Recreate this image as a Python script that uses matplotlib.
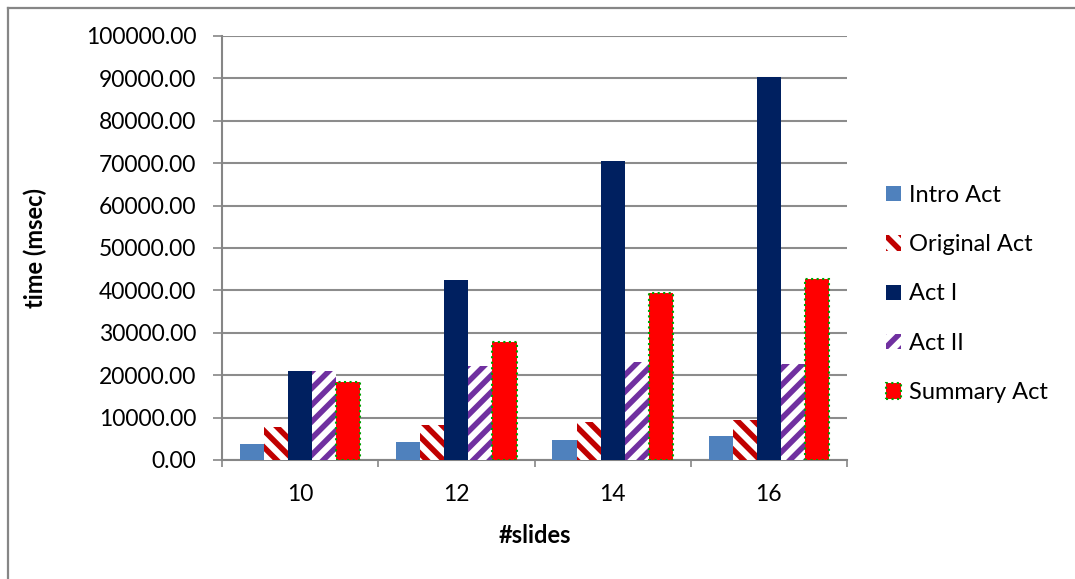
import numpy as np
import matplotlib.pyplot as plt
from matplotlib.lines import Line2D

plt.rcParams['font.family'] = ['Lato', 'DejaVu Sans']
plt.rcParams['hatch.linewidth'] = 4.0

slides = ['10', '12', '14', '16']
intro_act = [3700, 4300, 4800, 5600]
original_act = [7900, 8300, 9000, 9500]
act_1 = [21100, 42500, 70600, 90300]
act_2 = [21000, 22200, 23000, 22700]
summary_act = [18300, 27800, 39500, 42800]

W, H = 1075, 579
fig = plt.figure(figsize=(W / 100, H / 100), dpi=100)
ax = fig.add_axes([222 / W, 1 - 460 / H, 625 / W, 424 / H])

# chart border (top and left edges)
fig.lines.append(Line2D([8 / W, 8 / W], [0, 1 - 8 / H], transform=fig.transFigure,
                        color='#868686', linewidth=1.6))
fig.lines.append(Line2D([8 / W, 1], [1 - 8 / H, 1 - 8 / H], transform=fig.transFigure,
                        color='#868686', linewidth=1.6))

x = np.arange(len(slides))
w = 0.154
series = [
    ('Intro Act', intro_act, dict(color='#4f81bd')),
    ('Original Act', original_act, dict(facecolor='white', edgecolor='#c00000', hatch='\\\\', linewidth=0)),
    ('Act I', act_1, dict(color='#002060')),
    ('Act II', act_2, dict(facecolor='white', edgecolor='#7030a0', hatch='//', linewidth=0)),
    ('Summary Act', summary_act, dict(facecolor='#ff0000', edgecolor='#00a000', linestyle=':', linewidth=1.5)),
]
for i, (name, vals, style) in enumerate(series):
    ax.bar(x + (i - 2) * w, vals, w, label=name, zorder=3, **style)

yt = np.arange(0, 100001, 10000)
ax.set_xlim(-0.5, 3.5)
ax.set_ylim(0, 100000)
ax.set_yticks(yt)
ax.set_yticklabels(['%.2f' % v for v in yt])
ax.set_xticks(x)
ax.set_xticklabels(slides)
ax.set_xticks(np.arange(-0.5, 3.6, 1), minor=True)
ax.tick_params(axis='x', which='major', length=0, pad=17)
ax.tick_params(axis='x', which='minor', length=5, color='#868686', width=1.2)
ax.tick_params(axis='y', length=6.5, color='#868686', width=1.2, pad=12)
ax.tick_params(labelsize=16.5)
ax.grid(axis='y', color='#8c8c8c', linewidth=1.5, zorder=0)
for s in ['top', 'right']:
    ax.spines[s].set_visible(False)
for s in ['left', 'bottom']:
    ax.spines[s].set_color('#868686')
    ax.spines[s].set_linewidth(1.5)

ax.set_ylabel('time (msec)', fontsize=17, fontweight='bold', va='center')
ax.yaxis.set_label_coords(-0.298, 0.5)
ax.set_xlabel('#slides', fontsize=17, fontweight='bold', va='center')
ax.xaxis.set_label_coords(0.5, -0.178)

ax.legend(loc='center left', bbox_to_anchor=(886 / W, 1 - 294 / H),
          bbox_transform=fig.transFigure, frameon=False, borderpad=0, borderaxespad=0,
          fontsize=17, handlelength=0.62, handleheight=0.62, handletextpad=0.35,
          labelspacing=1.2)

fig.savefig('out.png', dpi=100)
